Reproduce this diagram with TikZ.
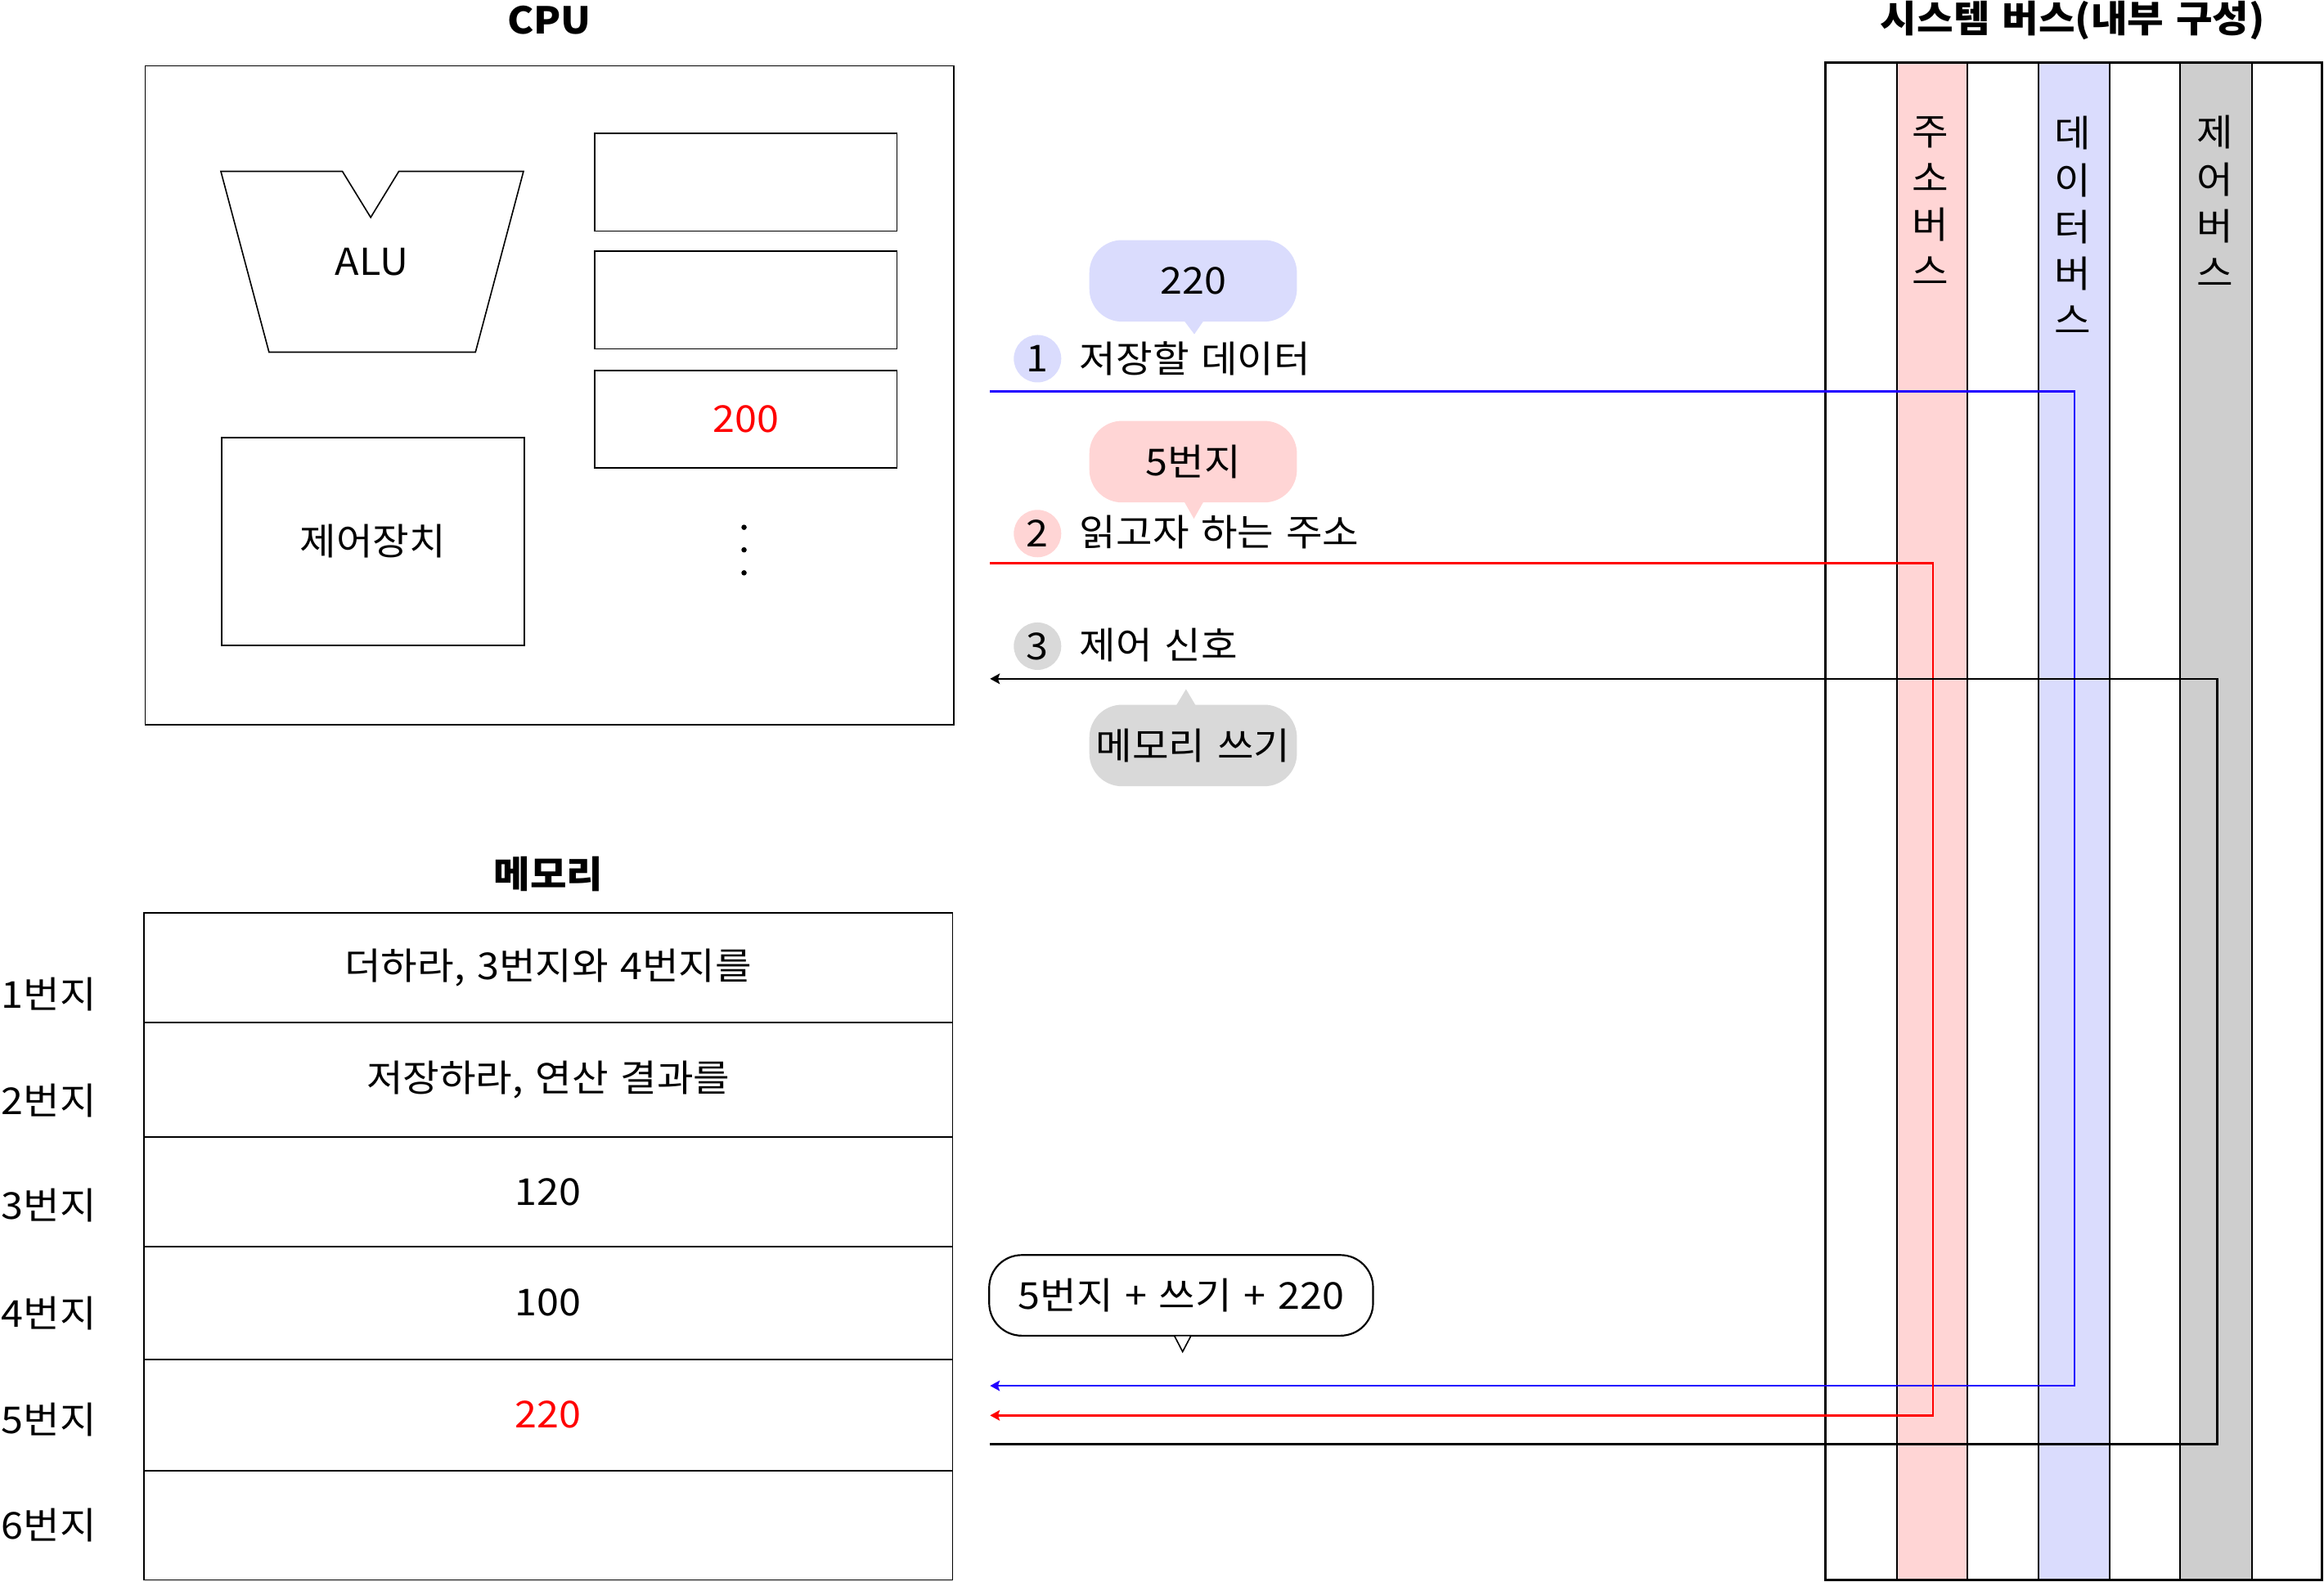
\documentclass[tikz,border=0pt]{standalone}
\usepackage{fontspec}
\setmainfont{Noto Sans CJK KR}[FakeStretch=1.07,WordSpace=1.35]
\usetikzlibrary{arrows.meta}
\definecolor{bluefill}{HTML}{DADCFD}
\definecolor{pinkfill}{HTML}{FFD5D5}
\definecolor{grayfill}{HTML}{D9D9D9}
\definecolor{graycol}{HTML}{CECECE}
\definecolor{bluelink}{HTML}{2200FF}
\definecolor{redlink}{HTML}{FF0000}
\begin{document}
\begin{tikzpicture}[x=1pt,y=-1pt,
  every node/.style={inner sep=0pt, outer sep=0pt, font=\fontsize{25}{31.5}\selectfont},
  box/.style={draw, line width=1pt, fill=white},
  cell/.style={draw, line width=1pt, minimum width=545.6pt},
  title/.style={font=\fontsize{25}{30}\selectfont\bfseries},
  bubble/.style={rounded corners=22pt, minimum width=140pt, minimum height=55pt},
  numdot/.style={circle, minimum size=32pt},
  buscol/.style={draw, line width=1pt, minimum height=1023.7pt},
  vlabel/.style={align=center, font=\fontsize{25}{31.5}\selectfont},
  link/.style={line width=1.3pt},
  tip/.style={-{Stealth[length=6.5pt,width=7pt,inset=1.2pt]}}
]
\useasboundingbox (0,0) rectangle (1568,1067);
\fill[white] (0,0) rectangle (1568,1067);

% ---------- CPU ----------
\node[title] (cputitle) at (370.5,13.8) {CPU};
\node[box, minimum width=545.5pt, minimum height=444.5pt] (cpu) at (370.75,266.65) {};
\draw[line width=0.9pt] (149,115.6) -- (231,115.6) -- (250.1,146.7) -- (269.1,115.6)
  -- (353.2,115.6) -- (320.8,237.6) -- (181.5,237.6) -- cycle;
\node (alu) at (250.8,176.5) {ALU};
\node[box, minimum width=204.1pt, minimum height=65.9pt] (r1) at (503.15,122.95) {};
\node[box, minimum width=204.1pt, minimum height=65.9pt] (r2) at (503.15,202.45) {};
\node[box, minimum width=204.1pt, minimum height=65.9pt] (r3) at (503.15,282.95) {\textcolor{redlink}{200}};
\fill (502,355.8) circle (1.8pt);
\fill (502,371) circle (1.8pt);
\fill (502,386.5) circle (1.8pt);
\node[box, minimum width=204.1pt, minimum height=140pt] (cu) at (251.55,365.3) {제어장치};

% ---------- Memory ----------
\node[title] (memtitle) at (370,590) {메모리};
\node[cell, minimum height=73.8pt] (m1) at (369.9,653) {더하라, 3번지와 4번지를};
\node[cell, minimum height=77.3pt] (m2) at (369.9,728.55) {저장하라, 연산 결과를};
\node[cell, minimum height=73.8pt] (m3) at (369.9,804.1) {120};
\node[cell, minimum height=76.2pt] (m4) at (369.9,879.1) {100};
\node[cell, minimum height=75pt] (m5) at (369.9,954.7) {\textcolor{redlink}{220}};
\node[cell, minimum height=73.8pt] (m6) at (369.9,1029.1) {};
\node[anchor=west] (a1) at (1,671) {1번지};
\node[anchor=west] (a2) at (1,742.5) {2번지};
\node[anchor=west] (a3) at (1,813.2) {3번지};
\node[anchor=west] (a4) at (1,886.3) {4번지};
\node[anchor=west] (a5) at (1,957.9) {5번지};
\node[anchor=west] (a6) at (1,1029.3) {6번지};

% ---------- System bus ----------
\node[title] (bustitle) at (1398.5,14) {시스템 버스(내부 구성)};
\node[buscol, fill=pinkfill, minimum width=47.5pt] (abus) at (1303.75,554.15) {};
\node[buscol, fill=bluefill, minimum width=47.9pt] (dbus) at (1399.45,554.15) {};
\node[buscol, fill=graycol, minimum width=48.5pt] (cbus) at (1495.25,554.15) {};
\node[draw, line width=1.6pt, minimum width=334.6pt, minimum height=1023.7pt] (bus) at (1399.1,554.15) {};
\node[vlabel] (abuslabel) at (1302.5,135.7) {주\\소\\버\\스};
\node[vlabel] (dbuslabel) at (1398.5,152) {데\\이\\터\\버\\스};
\node[vlabel] (cbuslabel) at (1494.5,135.7) {제\\어\\버\\스};

% ---------- labels and callouts ----------
\node[numdot, fill=bluefill] (n1) at (700,242) {1};
\node[anchor=west] (t1) at (728.5,242) {저장할 데이터};
\node[numdot, fill=pinkfill] (n2) at (700,360) {2};
\node[anchor=west] (t2) at (728.5,359) {읽고자 하는 주소};
\node[numdot, fill=grayfill] (n3) at (700,436) {3};
\node[anchor=west] (t3) at (728.5,435) {제어 신호};

\node[bubble, fill=bluefill] (b1) at (805,189.5) {220};
\fill[bluefill] ([xshift=-6pt,yshift=0.5pt]b1.south) -- ([xshift=7pt,yshift=0.5pt]b1.south)
  -- ([xshift=0.8pt,yshift=-8.5pt]b1.south) -- cycle;
\node[bubble, fill=pinkfill] (b2) at (805,311.5) {5번지};
\fill[pinkfill] ([xshift=-6pt,yshift=0.5pt]b2.south) -- ([xshift=7pt,yshift=0.5pt]b2.south)
  -- ([xshift=0.5pt,yshift=-11pt]b2.south) -- cycle;
\node[bubble, fill=grayfill] (b3) at (805,503) {메모리 쓰기};
\fill[grayfill] ([xshift=-11.4pt,yshift=-0.5pt]b3.north) -- ([xshift=1.7pt,yshift=-0.5pt]b3.north)
  -- ([xshift=-4.8pt,yshift=10.5pt]b3.north) -- cycle;
\node[bubble, draw, fill=white, line width=1.2pt, minimum width=259pt, minimum height=54.4pt] (b4) at (796.9,874) {5번지 + 쓰기 + 220};
\draw[fill=white, line width=0.9pt] ([xshift=-4.6pt]b4.south) -- ([xshift=6.7pt]b4.south)
  -- ([xshift=1pt,yshift=-10.8pt]b4.south) -- cycle;

% ---------- connectors ----------
\coordinate (dS) at (668,264);
\coordinate (dC) at (1399.5,935);
\coordinate (dE) at (668,935);
\coordinate (aS) at (668,380);
\coordinate (aC) at (1304,955);
\coordinate (aE) at (668,955);
\coordinate (cS) at (668,974.5);
\coordinate (cC) at (1496,458);
\coordinate (cE) at (668,458);
\draw[link, bluelink, tip] (dS) -| (dC) -- (dE);
\draw[link, redlink, tip] (aS) -| (aC) -- (aE);
\draw[link, black, tip] (cS) -| (cC) -- (cE);
\end{tikzpicture}
\end{document}
